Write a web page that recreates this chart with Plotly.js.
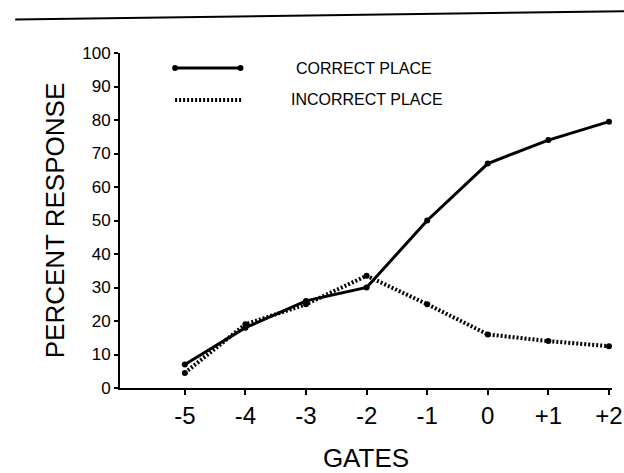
<!DOCTYPE html>
<html>
<head>
<meta charset="utf-8">
<script src="https://cdn.plot.ly/plotly-3.0.1.min.js"></script>
<style>
html,body{margin:0;padding:0;background:#fff;}
#chart{width:624px;height:473px;}
</style>
</head>
<body>
<div id="chart"></div>
<script>
// Data
const gates = [-5, -4, -3, -2, -1, 0, 1, 2];
const gateLabels = ["-5", "-4", "-3", "-2", "-1", "0", "+1", "+2"];
const correctPlace = [7, 18, 26, 30, 50, 67, 74, 79.5];
const incorrectPlace = [4.5, 19, 25, 33.5, 25, 16, 14, 12.5];
const seriesNames = ["CORRECT PLACE", "INCORRECT PLACE"];
const yTicks = [0, 10, 20, 30, 40, 50, 60, 70, 80, 90, 100];

const FONT = "'Liberation Sans', Arial, sans-serif";

const traces = [
  {
    x: gates, y: correctPlace, name: seriesNames[0], type: "scatter", mode: "lines+markers",
    line: {color: "#000", width: 3},
    marker: {color: "#000", size: 6, symbol: "circle"},
    showlegend: false
  },
  {
    x: gates, y: incorrectPlace, name: seriesNames[1], type: "scatter", mode: "lines+markers",
    line: {color: "#000", width: 4, dash: "2px,2px"},
    marker: {color: "#000", size: 6, symbol: "circle"},
    showlegend: false
  }
];

const layout = {
  width: 624, height: 473,
  margin: {l: 120, r: 12, t: 53, b: 85},
  paper_bgcolor: "#fff", plot_bgcolor: "#fff",
  font: {family: FONT, color: "#000"},
  xaxis: {
    range: [-6.07, 2.05],
    tickvals: gates, ticktext: gateLabels,
    tickfont: {size: 24, family: FONT},
    ticks: "outside", ticklen: 5, tickwidth: 2, tickcolor: "#000",
    showline: true, linecolor: "#000", linewidth: 2,
    showgrid: false, zeroline: false,
    title: {text: "GATES", font: {size: 26, family: FONT}, standoff: 22}
  },
  yaxis: {
    range: [0, 100],
    tickvals: yTicks,
    tickfont: {size: 17, family: FONT},
    ticks: "outside", ticklen: 4, tickwidth: 2, tickcolor: "#000",
    showline: true, linecolor: "#000", linewidth: 2,
    showgrid: false, zeroline: false,
    title: {text: "PERCENT RESPONSE", font: {size: 26, family: FONT}, standoff: 10}
  },
  shapes: [
    {type: "line", xref: "paper", yref: "paper", x0: -0.213, x1: 1.03, y0: 1.10, y1: 1.125,
     line: {color: "#000", width: 2}},
    {type: "line", xref: "paper", yref: "paper", x0: 0.112, x1: 0.245, y0: 0.955, y1: 0.955,
     line: {color: "#000", width: 3}},
    {type: "circle", xref: "paper", yref: "paper", x0: 0.106, x1: 0.118, y0: 0.946, y1: 0.964,
     fillcolor: "#000", line: {color: "#000", width: 0}},
    {type: "circle", xref: "paper", yref: "paper", x0: 0.239, x1: 0.251, y0: 0.946, y1: 0.964,
     fillcolor: "#000", line: {color: "#000", width: 0}},
    {type: "line", xref: "paper", yref: "paper", x0: 0.112, x1: 0.249, y0: 0.86, y1: 0.86,
     line: {color: "#000", width: 4, dash: "2px,2px"}}
  ],
  annotations: [
    {xref: "paper", yref: "paper", x: 0.353, y: 0.955, xanchor: "left", yanchor: "middle",
     text: seriesNames[0], showarrow: false, font: {size: 16, family: FONT}},
    {xref: "paper", yref: "paper", x: 0.343, y: 0.86, xanchor: "left", yanchor: "middle",
     text: seriesNames[1], showarrow: false, font: {size: 16, family: FONT}}
  ]
};

Plotly.newPlot("chart", traces, layout, {displayModeBar: false, staticPlot: true});
</script>
</body>
</html>
